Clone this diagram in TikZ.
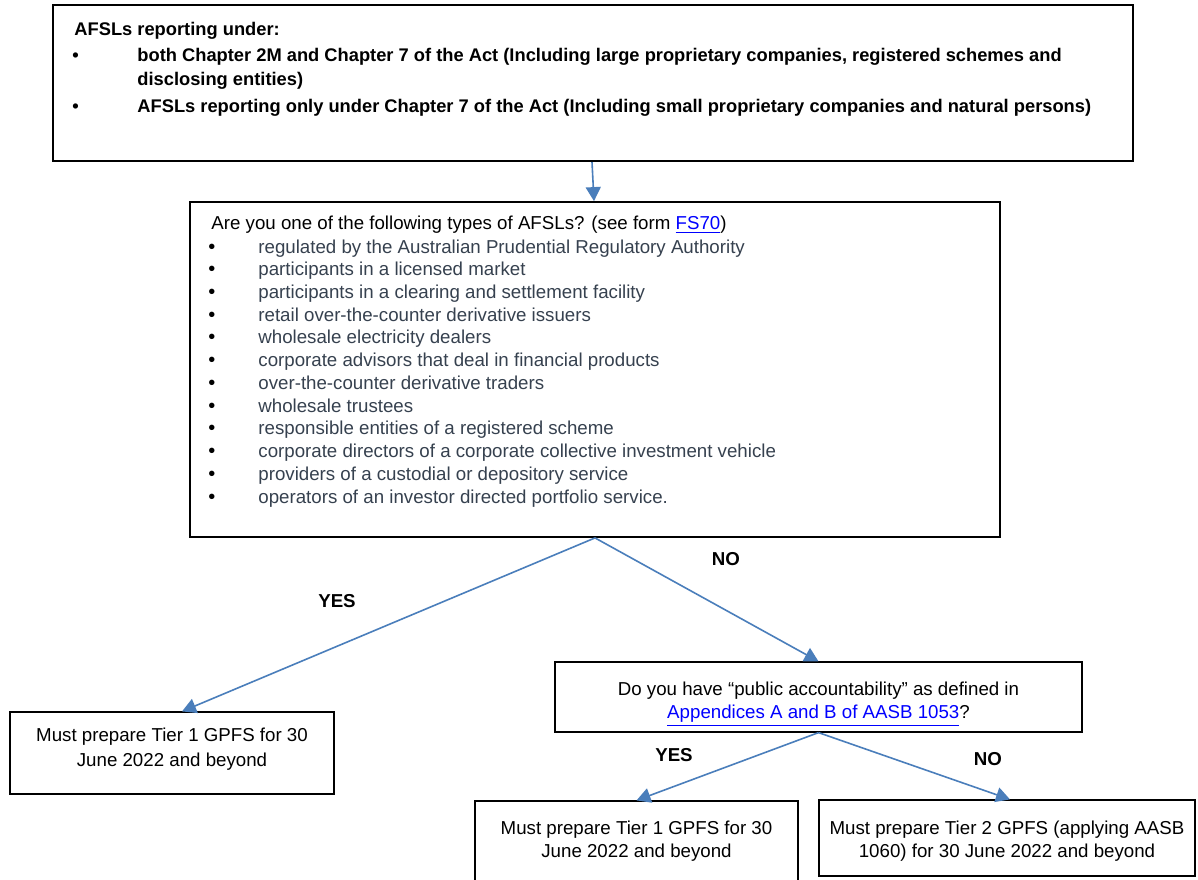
\documentclass[tikz,border=0pt]{standalone}
\usepackage{fontspec}
\setmainfont{Liberation Sans}
\usetikzlibrary{arrows.meta}
\definecolor{arrowblue}{HTML}{4A7EBB}
\definecolor{itemgray}{HTML}{36414F}
\definecolor{linkblue}{HTML}{0000FF}
\newcommand{\lnk}[1]{\textcolor{linkblue}{\underline{#1}}}
\tikzset{
  box/.style={draw=black, line width=0.6pt, inner sep=0pt},
  boxtext/.style={inner sep=0pt, align=center,
    font=\fontsize{9.35pt}{11.5pt}\selectfont},
  topline/.style={anchor=base west, inner sep=0pt,
    font=\fontsize{9.15pt}{11pt}\selectfont\bfseries},
  midline/.style={anchor=base west, inner sep=0pt,
    font=\fontsize{9.35pt}{11.4pt}\selectfont},
  itemline/.style={midline, text=itemgray},
  flow/.style={draw=arrowblue, line width=0.8pt,
    -{Triangle[width=7.5pt,length=7pt]}},
  lbl/.style={inner sep=0pt, font=\fontsize{9.35pt}{11pt}\selectfont\bfseries}
}
\begin{document}
\begin{tikzpicture}[x=0.5pt,y=-0.5pt]
\clip (0,0) rectangle (1198,879);
\fill[white] (0,0) rectangle (1198,879);

% boxes
\node[box, line width=1.1pt, minimum width=540pt, minimum height=78pt] (top) at (593,83) {};
\node[box, line width=0.9pt, minimum width=405pt, minimum height=167.5pt] (mid) at (595,369.5) {};
\node[box, minimum width=263.5pt, minimum height=35pt] (pa) at (818.5,697) {};
\node[box, minimum width=162pt, minimum height=41pt] (t1a) at (172,753) {};
\node[box, minimum width=161.5pt, minimum height=40.5pt] (t1b) at (636.5,841.5) {};
\node[box, minimum width=188pt, minimum height=38pt] (t2) at (1007,838) {};

% box texts
\node[boxtext] (patext) at (818.5,704)
  {Do you have “public accountability” as defined in\\ \lnk{Appendices A and B of AASB 1053}?};
\node[boxtext, font=\fontsize{9.35pt}{12.5pt}\selectfont] (t1atext) at (172,749)
  {Must prepare Tier 1 GPFS for 30\\ June 2022 and beyond};
\node[boxtext] (t1btext) at (636.5,841.5)
  {Must prepare Tier 1 GPFS for 30\\ June 2022 and beyond};
\node[boxtext] (t2text) at (1007,841)
  {Must prepare Tier 2 GPFS (applying AASB\\ 1060) for 30 June 2022 and beyond};

% top box text
\node[topline] (h0) at (74,35) {AFSLs reporting under:};
\node[topline] (b1) at (72,61) {\textbullet};
\node[topline] (h1) at (137,61) {both Chapter 2M and Chapter 7 of the Act (Including large proprietary companies, registered schemes and};
\node[topline] (h2) at (137,85.5) {disclosing entities)};
\node[topline] (b2) at (72,112) {\textbullet};
\node[topline] (h3) at (137,112) {AFSLs reporting only under Chapter 7 of the Act (Including small proprietary companies and natural persons)};

% middle box text
\node[midline] (q) at (211,229) {Are you one of the following types of AFSLs? (see form \lnk{FS70})};
\foreach \t [count=\i from 0] in {
  regulated by the Australian Prudential Regulatory Authority,
  participants in a licensed market,
  participants in a clearing and settlement facility,
  retail over-the-counter derivative issuers,
  wholesale electricity dealers,
  corporate advisors that deal in financial products,
  over-the-counter derivative traders,
  wholesale trustees,
  responsible entities of a registered scheme,
  corporate directors of a corporate collective investment vehicle,
  providers of a custodial or depository service,
  operators of an investor directed portfolio service.}
{
  \node[midline, font=\fontsize{10pt}{11pt}\selectfont] (bul\i) at (208,{253+22.73*\i}) {\textbullet};
  \node[itemline] (it\i) at (258,{253+22.73*\i}) {\t};
}

% connectors
\draw[flow] ([xshift=-0.5pt]top.south) -- ([xshift=-0.5pt]mid.north);
\draw[flow] (mid.south) -- ([xshift=5pt]t1a.north);
\draw[flow] (mid.south) -- (pa.north);
\draw[flow] (pa.south) -- (t1b.north);
\draw[flow] (pa.south) -- ([xshift=1.5pt]t2.north);

% labels
\node[lbl] (yes1) at (337,601) {YES};
\node[lbl] (no1) at (726,559) {NO};
\node[lbl] (yes2) at (674,755) {YES};
\node[lbl] (no2) at (988,759) {NO};
\end{tikzpicture}
\end{document}
